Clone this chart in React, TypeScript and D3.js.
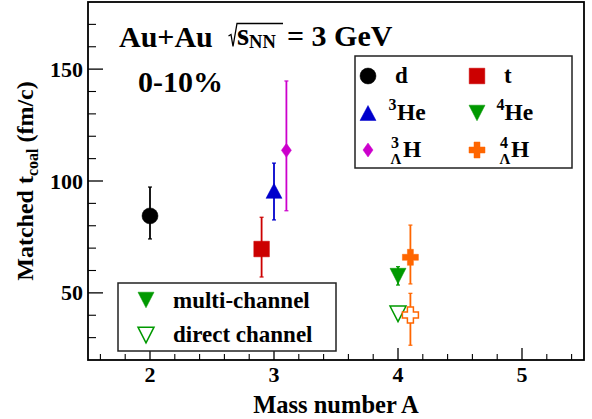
import React from "react";
import * as d3 from "d3";

// Matched coalescence time vs. mass number, Au+Au 3 GeV, 0-10%
const species = ["d", "t", "3He", "4He", "3LH", "4LH"];
const massA = [2.0, 2.9, 3.0, 4.0, 3.1, 4.1];
const tcoal = [84.4, 69.6, 95.6, 57.5, 113.7, 65.9];
const tcoalHigh = [97.3, 83.8, 108.0, 61.7, 144.7, 80.3];
const tcoalLow = [74.1, 57.1, 82.6, 53.5, 86.7, 54.0];

// direct-channel results (open markers)
const directSpecies = ["4He", "4LH"];
const directA = [4.0, 4.1];
const directT = [40.6, 40.1];
const directHigh = [40.6, 49.8];
const directLow = [40.6, 26.6];

const xMajorTicks = [2, 3, 4, 5];
const yMajorTicks = [50, 100, 150];

const W = 592;
const H = 419;
const frame = { left: 88, right: 584, top: 2, bottom: 360 };
const FONT = "'Liberation Serif', 'Times New Roman', serif";

const styleOf: Record<string, { color: string; shape: string }> = {
  d: { color: "#000000", shape: "circle" },
  t: { color: "#cc0000", shape: "square" },
  "3He": { color: "#0000cc", shape: "triUp" },
  "4He": { color: "#009900", shape: "triDown" },
  "3LH": { color: "#cc00cc", shape: "diamond" },
  "4LH": { color: "#ff6600", shape: "cross" },
};

function shapePath(shape: string): string {
  switch (shape) {
    case "circle": {
      const p = d3.path();
      p.arc(0, 0, 8, 0, Math.PI * 2);
      return p.toString();
    }
    case "square":
      return "M-7.8,-7.8H7.8V7.8H-7.8Z";
    case "triUp":
      return "M0,-7.5L8,7.5L-8,7.5Z";
    case "triDown":
      return "M0,7.8L8,-7.8L-8,-7.8Z";
    case "diamond":
      return "M0,-7L5,0L0,7L-5,0Z";
    case "cross": {
      const a = 8, b = 3;
      return `M${-b},${-a}H${b}V${-b}H${a}V${b}H${b}V${a}H${-b}V${b}H${-a}V${-b}H${-b}Z`;
    }
  }
  return "";
}

function Marker({ x, y, sp, open }: { x: number; y: number; sp: string; open?: boolean }) {
  const st = styleOf[sp];
  return (
    <path
      d={shapePath(st.shape)}
      transform={`translate(${x},${y})`}
      fill={open ? "#ffffff" : st.color}
      stroke={st.color}
      strokeWidth={open ? 1.5 : 0.5}
    />
  );
}

function ErrorBar({ x, yHi, yLo, color }: { x: number; yHi: number; yLo: number; color: string }) {
  if (Math.abs(yHi - yLo) < 0.5) return null;
  return (
    <g stroke={color} strokeWidth={1.8}>
      <line x1={x} x2={x} y1={yHi} y2={yLo} />
      <line x1={x - 2} x2={x + 2} y1={yHi} y2={yHi} strokeWidth={1.2} />
      <line x1={x - 2} x2={x + 2} y1={yLo} y2={yLo} strokeWidth={1.2} />
    </g>
  );
}

export default function App() {
  const x = d3.scaleLinear().domain([1.5, 5.5]).range([frame.left, frame.right]);
  const y = d3.scaleLinear().domain([20, 180]).range([frame.bottom, frame.top]);

  const xMinor = d3.range(1.6, 5.45, 0.2).filter((v) => !xMajorTicks.some((m) => Math.abs(m - v) < 1e-6));
  const yMinor = d3.range(30, 175, 10).filter((v) => !yMajorTicks.includes(v));

  const lx1 = 368, lx2 = 477;
  const rows = [76, 113, 150];

  return (
    <svg
      width={W}
      height={H}
      style={{ position: "absolute", left: 0, top: 0, background: "#ffffff" }}
      fontFamily={FONT}
      fontWeight="bold"
    >
      <rect x={0} y={0} width={W} height={H} fill="#ffffff" />

      {/* frame */}
      <rect
        x={frame.left}
        y={frame.top}
        width={frame.right - frame.left}
        height={frame.bottom - frame.top}
        fill="none"
        stroke="#000"
        strokeWidth={1.8}
      />

      {/* y ticks */}
      {yMajorTicks.map((v) => (
        <g key={"ym" + v}>
          <line x1={frame.left} x2={frame.left + 15} y1={y(v)} y2={y(v)} stroke="#000" strokeWidth={1.3} />
          <text x={frame.left - 5} y={y(v) + 7.5} fontSize={22} textAnchor="end">
            {v}
          </text>
        </g>
      ))}
      {yMinor.map((v) => (
        <line key={"yn" + v} x1={frame.left} x2={frame.left + 8} y1={y(v)} y2={y(v)} stroke="#000" strokeWidth={1.1} />
      ))}

      {/* x ticks */}
      {xMajorTicks.map((v) => (
        <g key={"xm" + v}>
          <line x1={x(v)} x2={x(v)} y1={frame.bottom} y2={frame.bottom - 12} stroke="#000" strokeWidth={1.3} />
          <text x={x(v)} y={frame.bottom + 22} fontSize={22} textAnchor="middle">
            {v}
          </text>
        </g>
      ))}
      {xMinor.map((v) => (
        <line key={"xn" + v.toFixed(1)} x1={x(v)} x2={x(v)} y1={frame.bottom} y2={frame.bottom - 6} stroke="#000" strokeWidth={1.1} />
      ))}

      {/* axis titles */}
      <text x={(frame.left + frame.right) / 2} y={413} fontSize={24.5} textAnchor="middle">
        Mass number A
      </text>
      <text transform="translate(33,181) rotate(-90)" fontSize={24} textAnchor="middle">
        Matched t
        <tspan fontSize={16} dy={5}>coal</tspan>
        <tspan dy={-5}> (fm/c)</tspan>
      </text>

      {/* header text */}
      <text x={119} y={47} fontSize={30}>Au+Au</text>
      <path d="M228.5,36 L231,34.5 L233,46.5 L237,23.5 L283,23.5" fill="none" stroke="#000" strokeWidth={1.3} />
      <text x={237} y={45} fontSize={31}>
        s<tspan fontSize={18.5} dy={3}>NN</tspan>
      </text>
      <text x={287} y={46} fontSize={30}>= 3 GeV</text>
      <text x={138} y={91.5} fontSize={30}>0-10%</text>

      {/* error bars */}
      {species.map((sp, i) => (
        <ErrorBar key={"e" + sp} x={x(massA[i])} yHi={y(tcoalHigh[i])} yLo={y(tcoalLow[i])} color={styleOf[sp].color} />
      ))}
      {directSpecies.map((sp, i) => (
        <ErrorBar key={"de" + sp} x={x(directA[i])} yHi={y(directHigh[i])} yLo={y(directLow[i])} color={styleOf[sp].color} />
      ))}

      {/* markers */}
      {species.map((sp, i) => (
        <Marker key={"m" + sp} x={x(massA[i])} y={y(tcoal[i])} sp={sp} />
      ))}
      {directSpecies.map((sp, i) => (
        <Marker key={"dm" + sp} x={x(directA[i])} y={y(directT[i])} sp={sp} open />
      ))}

      {/* species legend */}
      <rect x={355} y={56} width={217} height={112} fill="#ffffff" stroke="#222" strokeWidth={1.5} />
      <Marker x={lx1} y={rows[0]} sp="d" />
      <text x={395} y={rows[0] + 7} fontSize={23}>d</text>
      <Marker x={lx2} y={rows[0]} sp="t" />
      <text x={504} y={rows[0] + 7} fontSize={23}>t</text>

      <Marker x={lx1} y={rows[1]} sp="3He" />
      <text x={388.5} y={rows[1] - 3} fontSize={16}>3</text>
      <text x={397} y={rows[1] + 7} fontSize={23.5}>He</text>
      <Marker x={lx2} y={rows[1]} sp="4He" />
      <text x={496.5} y={rows[1] - 3} fontSize={16}>4</text>
      <text x={504.5} y={rows[1] + 7} fontSize={23.5}>He</text>

      <Marker x={lx1} y={rows[2]} sp="3LH" />
      <text x={391} y={rows[2] - 2} fontSize={16}>3</text>
      <text x={390.5} y={rows[2] + 14} fontSize={15}>Λ</text>
      <text x={403} y={rows[2] + 7} fontSize={23.5}>H</text>
      <Marker x={lx2} y={rows[2]} sp="4LH" />
      <text x={500} y={rows[2] - 2} fontSize={16}>4</text>
      <text x={499.5} y={rows[2] + 14} fontSize={15}>Λ</text>
      <text x={511} y={rows[2] + 7} fontSize={23.5}>H</text>

      {/* channel legend */}
      <rect x={118} y={283} width={218} height={68} fill="#ffffff" stroke="#222" strokeWidth={1.5} />
      <Marker x={146} y={300} sp="4He" />
      <text x={173} y={308} fontSize={23}>multi-channel</text>
      <Marker x={146} y={335} sp="4He" open />
      <text x={173} y={342} fontSize={23}>direct channel</text>
    </svg>
  );
}
